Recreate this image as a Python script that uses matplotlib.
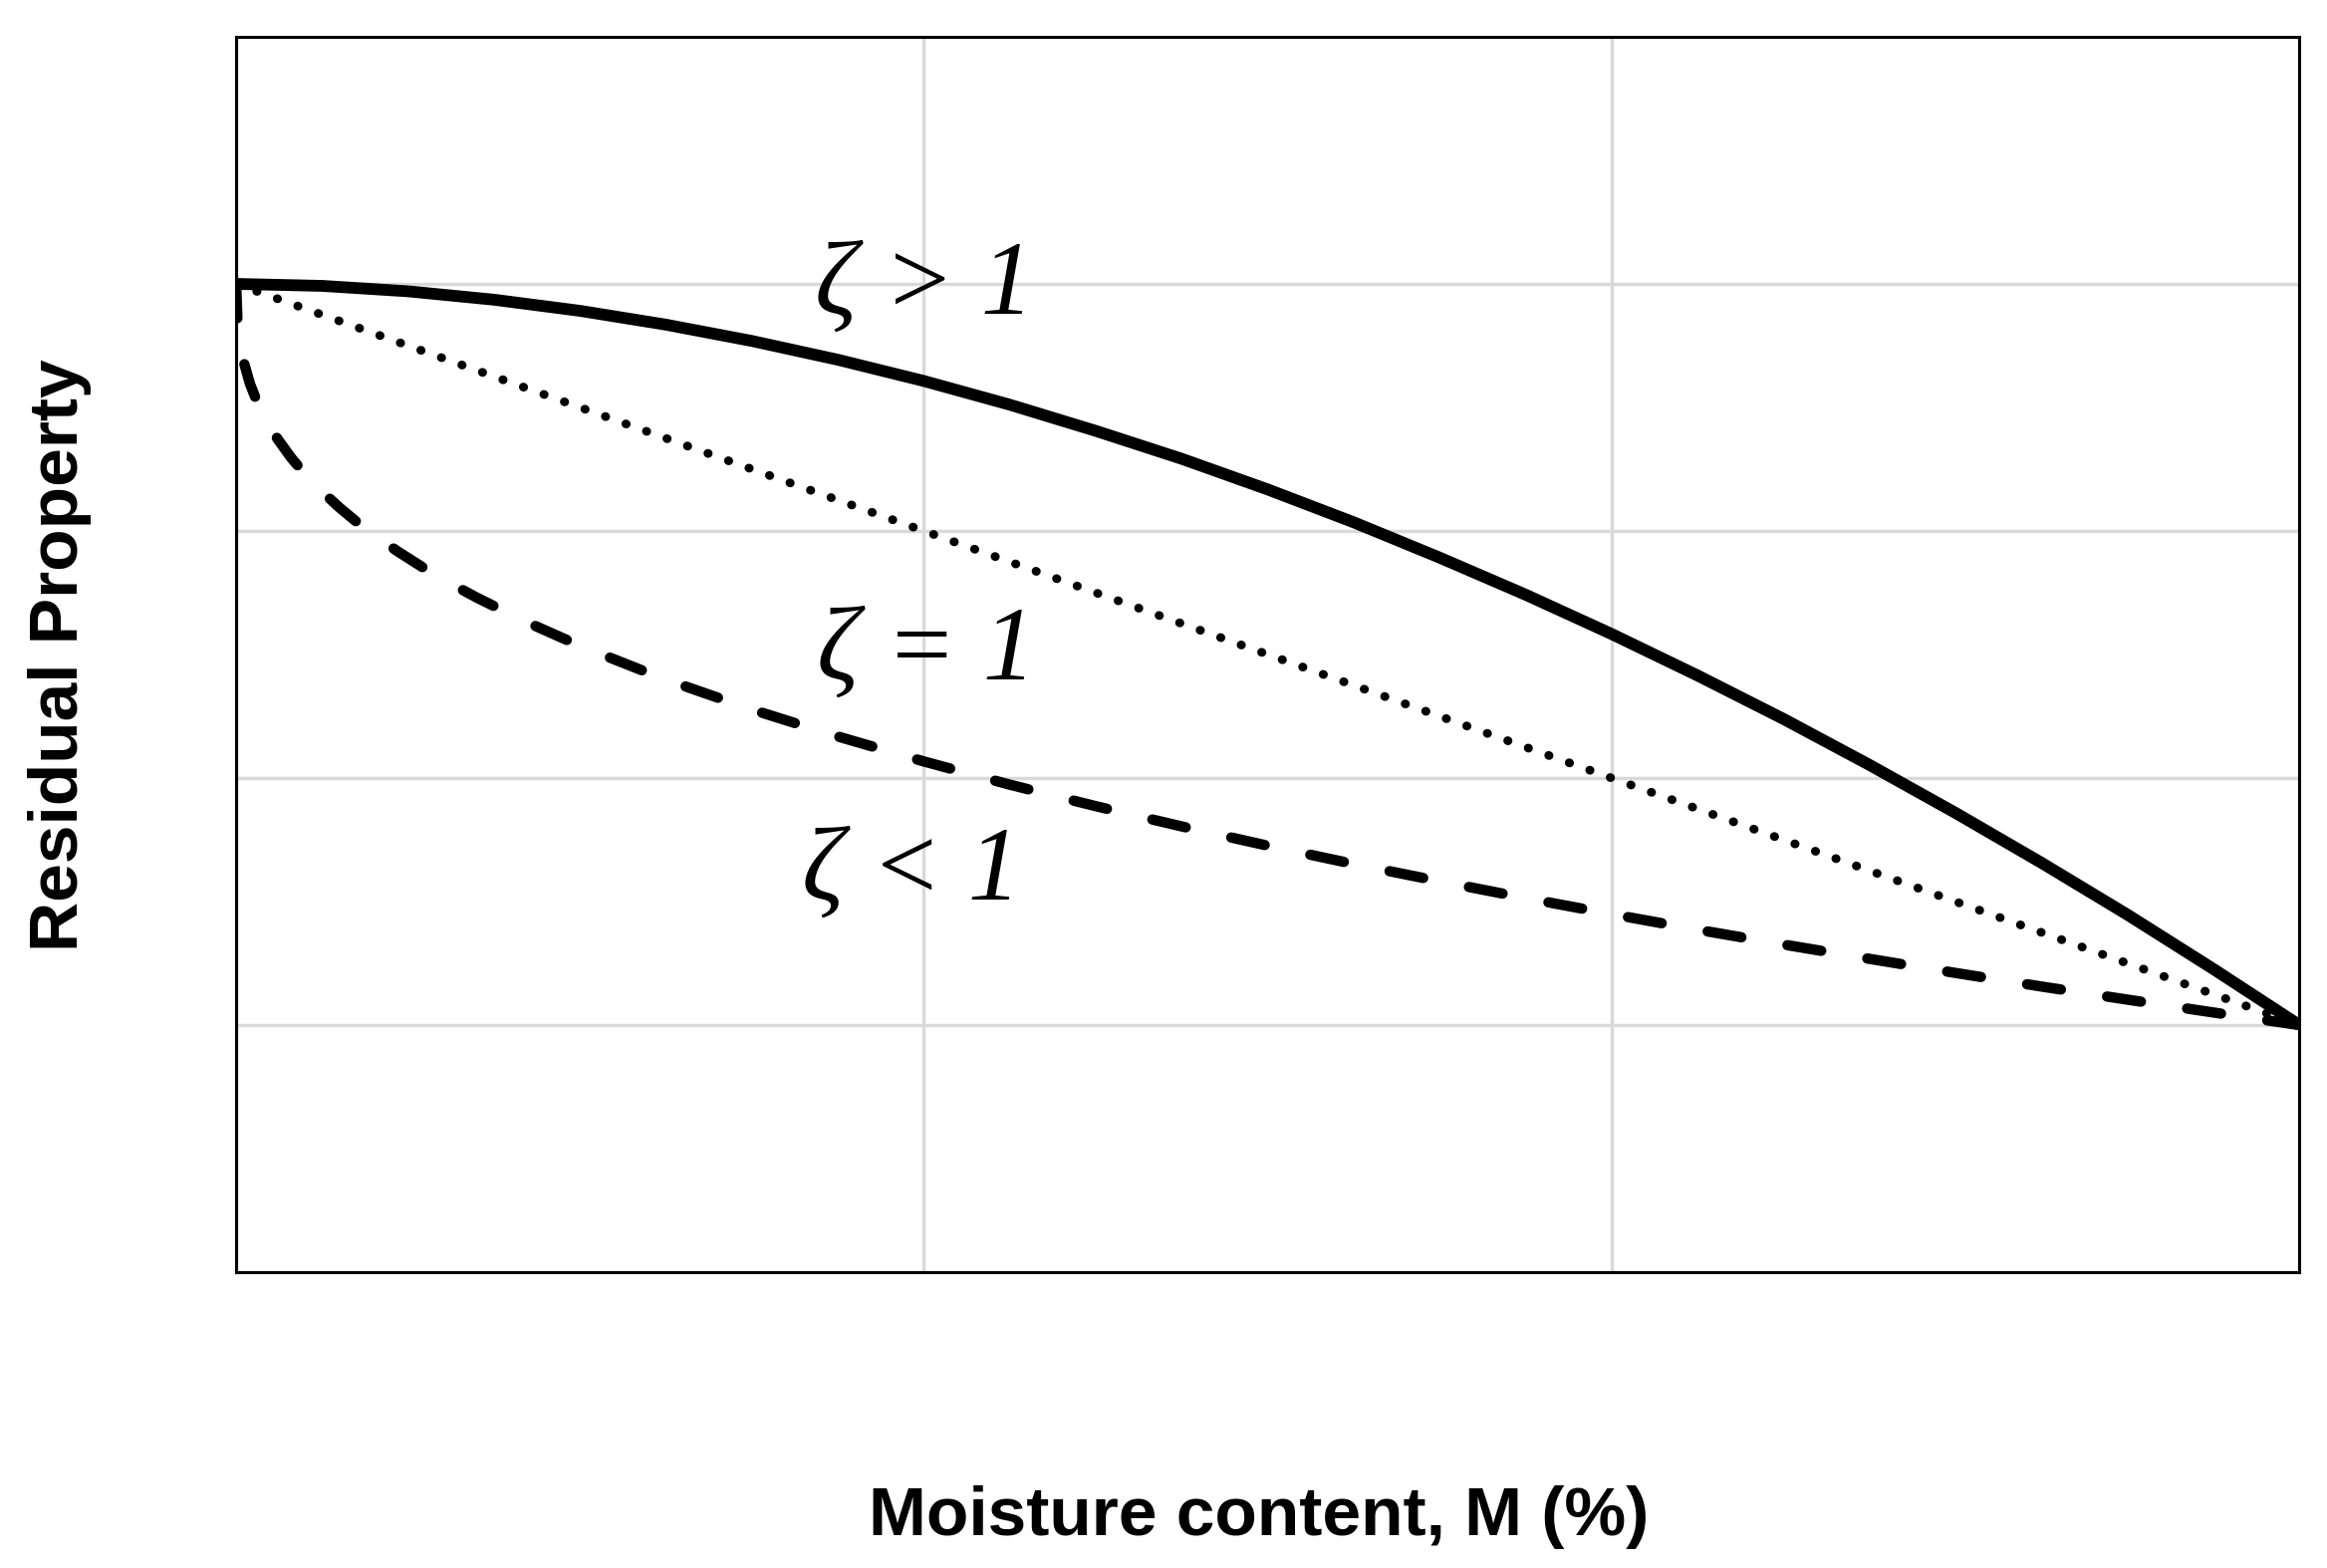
import matplotlib
matplotlib.use("Agg")
import matplotlib.pyplot as plt

# values (x in grid units 0..3, y in grid units 0..5)
x_solid = [0, 0.125, 0.25, 0.375, 0.5, 0.625, 0.75, 0.875, 1.0, 1.125, 1.25,
           1.375, 1.5, 1.625, 1.75, 1.875, 2.0, 2.125, 2.25, 2.375, 2.5,
           2.625, 2.75, 2.875, 3.0]
y_solid = [4.000, 3.992, 3.970, 3.936, 3.891, 3.835, 3.769, 3.693, 3.607,
           3.511, 3.405, 3.292, 3.168, 3.035, 2.892, 2.742, 2.583, 2.415,
           2.239, 2.053, 1.859, 1.657, 1.447, 1.227, 1.000]

x_dot = [0, 3.0]
y_dot = [4.0, 1.0]

x_dash = [0, 0.002, 0.005, 0.01, 0.02, 0.03, 0.045, 0.06, 0.08, 0.1, 0.125,
          0.15, 0.175, 0.2, 0.235, 0.27, 0.31, 0.35, 0.42, 0.5, 0.62, 0.75,
          0.87, 1.0, 1.125, 1.25, 1.375, 1.5, 1.625, 1.75, 1.875, 2.0, 2.125,
          2.25, 2.375, 2.5, 2.625, 2.75, 2.875, 3.0]
y_dash = [4.000, 3.839, 3.768, 3.694, 3.596, 3.525, 3.441, 3.373, 3.296,
          3.230, 3.159, 3.095, 3.037, 2.984, 2.917, 2.855, 2.790, 2.730,
          2.634, 2.535, 2.403, 2.277, 2.172, 2.067, 1.973, 1.886, 1.804,
          1.726, 1.652, 1.582, 1.514, 1.449, 1.386, 1.326, 1.268, 1.211,
          1.156, 1.103, 1.051, 1.000]

labels = ["ζ > 1", "ζ = 1", "ζ < 1"]
label_x = [1.0, 1.004, 0.982]
label_y = [3.88, 2.40, 1.51]

fig = plt.figure(figsize=(23.36, 15.74), dpi=100)
ax = fig.add_axes([0.1015, 0.1887, 0.8866, 0.7878])

ax.plot(x_dash, y_dash, color="black", lw=7.5, linestyle=(0, (3.3, 4.5)),
        dash_capstyle="round", solid_joinstyle="round", zorder=3)
ax.plot(x_dot, y_dot, color="black", lw=6.3, linestyle=(0, (0.05, 2.45)),
        dash_capstyle="round", zorder=3)
ax.plot(x_solid, y_solid, color="black", lw=8.5, solid_capstyle="butt",
        solid_joinstyle="round", zorder=4)

for t, tx, ty in zip(labels, label_x, label_y):
    ax.text(tx, ty, t, ha="center", va="baseline", fontsize=76,
            family="Liberation Serif", style="italic")

ax.set_xlim(0, 3)
ax.set_ylim(0, 5)
ax.set_xticks([0, 1, 2, 3])
ax.set_yticks([0, 1, 2, 3, 4, 5])
ax.tick_params(length=0, labelbottom=False, labelleft=False)
ax.grid(True, color="#d9d9d9", lw=2.5)
ax.set_axisbelow(True)
for s in ax.spines.values():
    s.set_linewidth(2.2)
    s.set_color("black")

fig.text(0.541, 0.0324, "Moisture content, M (%)", ha="center", va="center",
         fontsize=50, fontweight="bold", family="Liberation Sans")
fig.text(0.0257, 0.582, "Residual Property", ha="center", va="center",
         rotation=90, fontsize=50, fontweight="bold", family="Liberation Sans")

fig.savefig("out.png", dpi=100, facecolor="white")
